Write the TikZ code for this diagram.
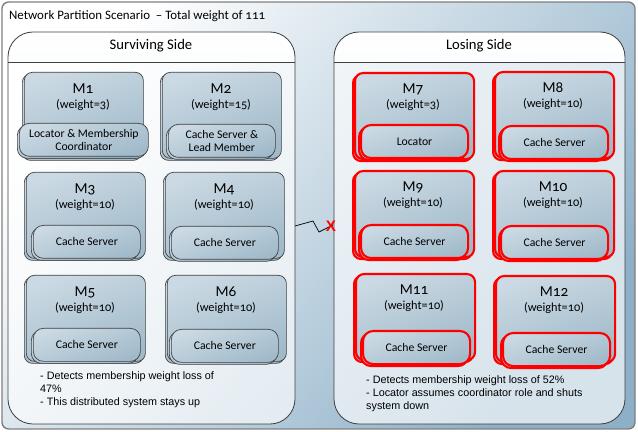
\documentclass[tikz,border=0pt]{standalone}
\usepackage{fontspec}
\setmainfont{Carlito}[Numbers=OldStyle]
\newfontfamily\notefont{Liberation Sans}
\usetikzlibrary{positioning}
\definecolor{boxline}{HTML}{404040}
\definecolor{bgblue}{HTML}{8DB0C8}
\definecolor{memtop}{HTML}{CAD9E3}
\definecolor{membot}{HTML}{A1BACA}
\definecolor{hdrbot}{HTML}{D6E3EB}
\definecolor{lossred}{HTML}{FF0000}
\begin{document}
\begin{tikzpicture}[x=0.03cm, y=-0.03cm,
    member/.style={draw=boxline, line width=0.6pt, rounded corners=0.24cm,
      top color=memtop, bottom color=membot, shading angle=20,
      minimum width=3.57cm, minimum height=2.58cm, anchor=north west},
    rolebox/.style={member, rounded corners=0.3cm, minimum width=3.21cm,
      minimum height=0.99cm, align=center, font=\fontsize{10}{11.5}\selectfont},
    lost/.style={draw=lossred, line width=1.8pt},
    memname/.style={font=\fontsize{13}{15}\selectfont},
    memweight/.style={font=\fontsize{10.5}{12}\selectfont},
    side/.style={draw=boxline, line width=0.7pt, rounded corners=0.75cm},
    note/.style={anchor=north west, align=left, inner sep=0pt,
      font=\notefont\fontsize{9.2}{11.2}\selectfont}]

  \useasboundingbox (0,0) rectangle (638,432);

  % background
  \shade[draw=gray, line width=1.2pt, rounded corners=0.2cm, top color=white,
    bottom color=bgblue, shading angle=50] (2,2) rectangle (635,429);
  \node[anchor=west, font=\fontsize{11}{13}\selectfont] (title) at (5,16)
    {Network Partition Scenario \ -- Total weight of 111};

  % the two sides
  \foreach \s/\xa/\xb in {surv/8/295, lose/334/625} {
    \fill[white, fill opacity=0.65, rounded corners=0.75cm] (\xa,32) rectangle (\xb,424);
    \begin{scope}
      \clip (\xa,32) rectangle (\xb,62);
      \shade[top color=white, bottom color=hdrbot, rounded corners=0.75cm] (\xa,32) rectangle (\xb,424);
    \end{scope}
    \draw[side] (\xa,32) rectangle (\xb,424);
    \draw[boxline, line width=0.7pt] (\xa,62) -- (\xb,62);
  }
  \node[font=\fontsize{12.5}{14}\selectfont] (survhdr) at (151,46) {Surviving Side};
  \node[font=\fontsize{12.5}{14}\selectfont] (losehdr) at (479,46) {Losing Side};

  % surviving members
  \foreach \m/\bx/\by/\sx/\sy/\sw/\wt/\role in {
      M1/22/72/17/123/3.87cm/3/{Locator \& Membership\\Coordinator},
      M2/160/72/166/124/3.21cm/15/{Cache Server \&\\Lead Member},
      M3/24/172/31/225/3.21cm/10/{Cache Server},
      M4/163/172/169/226/3.21cm/10/{Cache Server},
      M5/24/275/31/328/3.21cm/10/{Cache Server},
      M6/165/275/169/329/3.21cm/10/{Cache Server}} {
    \node[member] (\m b) at (\bx,\by+2) {};
    \node[member] (\m) at (\bx+2,\by) {};
    \node[memname] (\m n) at (\bx+61,\by+17) {\m};
    \node[memweight] (\m w) at (\bx+61,\by+33) {(weight=\wt)};
    \node[rolebox, minimum width=\sw] (\m rb) at (\sx,\sy+2) {};
    \node[rolebox, minimum width=\sw] (\m r) at (\sx+2,\sy) {\role};
  }

  % losing members
  \foreach \m/\bx/\by/\sx/\sy/\wt/\role in {
      M7/352/72/358/124/3/Locator,
      M8/492/71/498/125/10/{Cache Server},
      M9/352/170/358/224/10/{Cache Server},
      M10/492/170/498/225/10/{Cache Server},
      M11/353/273/360/330/10/{Cache Server},
      M12/493/275/500/332/10/{Cache Server}} {
    \node[member, lost] (\m b) at (\bx,\by+2) {};
    \node[member, lost] (\m) at (\bx+2,\by) {};
    \node[memname] (\m n) at (\bx+61,\by+17) {\m};
    \node[memweight] (\m w) at (\bx+61,\by+33) {(weight=\wt)};
    \node[rolebox, lost] (\m rb) at (\sx,\sy+2) {};
    \node[rolebox, lost] (\m r) at (\sx+2,\sy) {\role};
  }

  % notes
  \node[note] (survnote) at (40,371) {- Detects membership weight loss of\\47\%\\- This distributed system stays up};
  \node[note] (losenote) at (366,375) {- Detects membership weight loss of 52\%\\- Locator assumes coordinator role and shuts\\system down};

  % broken link
  \coordinate (cutA) at (295,226);
  \coordinate (cutB) at (313,221);
  \coordinate (cutC) at (319,232);
  \coordinate (cutD) at (333,225);
  \draw[line width=0.6pt] (cutA) -- (cutB) -- (cutC) -- (cutD);
  \node[text=lossred, font=\notefont\bfseries\fontsize{13}{14}\selectfont, inner sep=0pt] (cut) at (331,226) {X};
\end{tikzpicture}
\end{document}
